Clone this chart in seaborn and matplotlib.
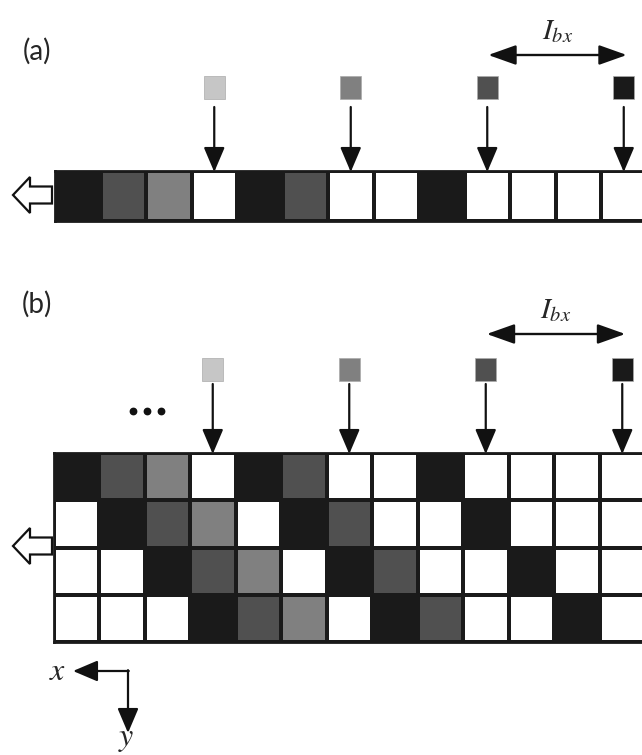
import numpy as np
import matplotlib
matplotlib.use("Agg")
import matplotlib.pyplot as plt
import matplotlib.patches as mpatches
from matplotlib.colors import ListedColormap
import seaborn as sns

# ---------------- data ----------------
# grey levels: 0 = white, 1 = light grey, 2 = grey, 3 = dark grey, 4 = black
strip_a = [4, 3, 2, 0, 4, 3, 0, 0, 4, 0, 0, 0, 0]
grid_b_row0 = [4, 3, 2, 0, 4, 3, 0, 0, 4, 0, 0, 0, 0]
grid_b_row1 = [0, 4, 3, 2, 0, 4, 3, 0, 0, 4, 0, 0, 0]
grid_b_row2 = [0, 0, 4, 3, 2, 0, 4, 3, 0, 0, 4, 0, 0]
grid_b_row3 = [0, 0, 0, 4, 3, 2, 0, 4, 3, 0, 0, 4, 0]
beam_levels = [1, 2, 3, 4]          # grey level of each incoming beam
beam_columns = [3, 6, 9, 12]        # column each beam points to
palette = ["#ffffff", "#c6c6c6", "#808080", "#505050", "#1a1a1a"]
label_a = "(a)"
label_b = "(b)"
period_label = r"$I_{bx}$"

# ---------------- figure ----------------
W, H = 642, 755
sns.set_theme(style="white")
plt.rcParams["mathtext.fontset"] = "stix"
fig = plt.figure(figsize=(W / 100, H / 100), dpi=100)
fig.patch.set_facecolor("white")
cmap = ListedColormap(palette)


def px_axes(x0, y0, w, h):
    return fig.add_axes([x0 / W, 1 - (y0 + h) / H, w / W, h / H])


CW = 45.5  # cell width px


def draw_grid(rows, x0, y0, ch):
    data = np.array(rows)
    ax = px_axes(x0, y0, CW * data.shape[1], ch * data.shape[0])
    sns.heatmap(data, ax=ax, cmap=cmap, vmin=-0.5, vmax=len(palette) - 0.5,
                cbar=False, linewidths=1.6, linecolor="#1a1a1a",
                xticklabels=False, yticklabels=False)
    for s in ax.spines.values():
        s.set_visible(True)
        s.set_linewidth(2)
        s.set_color("#1a1a1a")
    return ax


GA = dict(x0=55, y0=171, ch=50)
GB = dict(x0=53.5, y0=453, ch=47.3)
draw_grid([strip_a], **GA)
draw_grid([grid_b_row0, grid_b_row1, grid_b_row2, grid_b_row3], **GB)

# ---------------- overlay ----------------
ov = fig.add_axes([0, 0, 1, 1])
ov.set_xlim(0, W)
ov.set_ylim(H, 0)
ov.axis("off")
ov.patch.set_alpha(0)

arrow_kw = dict(arrowstyle="-|>,head_length=0.4,head_width=0.17",
                mutation_scale=38, lw=1.6, color="#111111",
                shrinkA=0, shrinkB=0)
dbl_kw = dict(arrowstyle="<|-|>,head_length=0.45,head_width=0.16",
              mutation_scale=38, lw=1.7, color="#111111",
              shrinkA=0, shrinkB=0)


def panel(g, label, label_y, sq_y, arr_top, ibx_y, hollow_y):
    ov.text(37, label_y, label, fontsize=20, family="Lato", va="center", ha="center")
    centers = [g["x0"] + (c + 0.5) * CW for c in beam_columns]
    for cx, lev in zip(centers, beam_levels):
        ov.add_patch(mpatches.Rectangle((cx - 10.5, sq_y - 11.5), 21, 23,
                                        facecolor=palette[lev], edgecolor="#aaaaaa",
                                        lw=0.5))
        ov.annotate("", xy=(cx, g["y0"] + 1), xytext=(cx, arr_top), arrowprops=arrow_kw)
    ov.annotate("", xy=(centers[-1] + 3, ibx_y), xytext=(centers[-2] + 1, ibx_y),
                arrowprops=dbl_kw)
    ov.text((centers[-1] + centers[-2]) / 2 + 2, ibx_y - 24, period_label,
            fontsize=21, ha="center", va="center")
    hx, hy = 13, hollow_y
    pts = [(hx, hy), (hx + 17, hy - 18), (hx + 17, hy - 8.5), (hx + 39, hy - 8.5),
           (hx + 39, hy + 8.5), (hx + 17, hy + 8.5), (hx + 17, hy + 18)]
    ov.add_patch(mpatches.Polygon(pts, closed=True, facecolor="white",
                                  edgecolor="#111111", lw=1.6, joinstyle="miter"))


panel(GA, label_a, 51, 87, 107, 55, 195)
panel(GB, label_b, 304, 369, 384, 334, 546)

# continuation dots
ov.plot([133, 147, 161], [411, 411, 411], ls="none", marker="o", ms=4.6,
        color="#111111")

# coordinate indicator
cx, cy = 128, 671
ov.annotate("", xy=(73, cy), xytext=(cx + 0.8, cy), arrowprops=arrow_kw)
ov.annotate("", xy=(cx, 733), xytext=(cx, cy - 0.8), arrowprops=arrow_kw)
ov.text(58, cy + 1, r"$x$", fontsize=23, ha="center", va="center")
ov.text(126, 739, r"$y$", fontsize=23, ha="center", va="center")

fig.savefig("out.png", dpi=100)
